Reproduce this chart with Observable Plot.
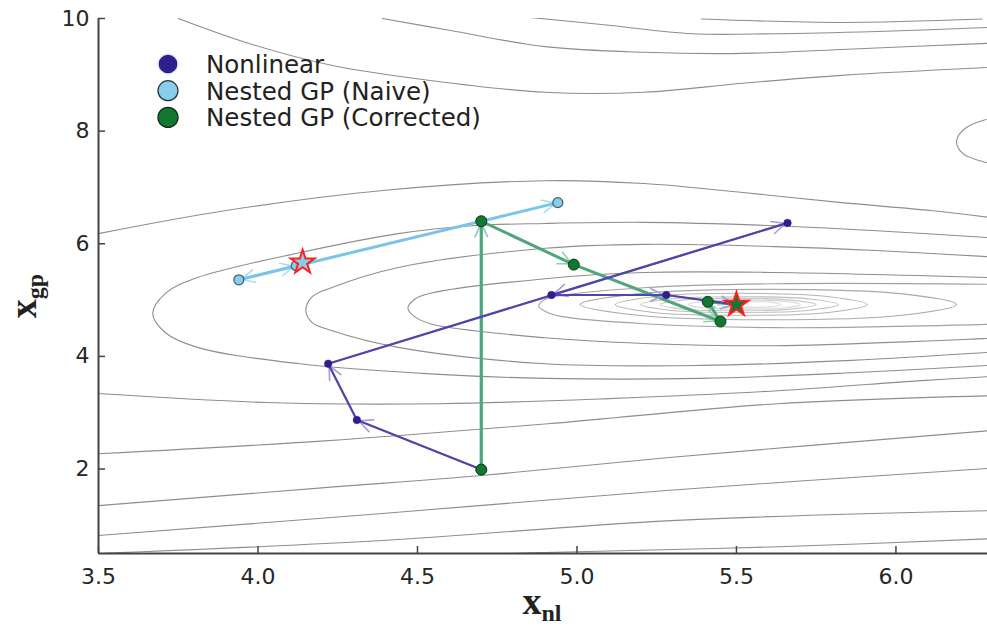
<!DOCTYPE html>
<html><head><meta charset="utf-8">
<script src="https://cdn.jsdelivr.net/npm/d3@7"></script>
<script src="https://cdn.jsdelivr.net/npm/@observablehq/plot@0.6"></script>
<style>body{margin:0;background:#fff;} #chart{width:987px;height:631px;}</style>
</head><body><div id="chart"></div>
<script>
// ---- axis ticks ----
const xTicks = [3.5, 4.0, 4.5, 5.0, 5.5, 6.0];
const yTicks = [2, 4, 6, 8, 10];

// ---- optimisation trajectories ----
const seriesNames = ["Nonlinear", "Nested GP (Naive)", "Nested GP (Corrected)"];
const nonlinearX = [4.70, 4.31, 4.22, 5.66, 4.92, 5.28, 5.50];
const nonlinearY = [1.99, 2.87, 3.87, 6.37, 5.09, 5.09, 4.92];
const naiveX = [4.70, 4.70, 4.94, 3.94, 4.12];
const naiveY = [1.99, 6.40, 6.73, 5.36, 5.61];
const correctedX = [4.70, 4.70, 4.99, 5.45, 5.41, 5.50];
const correctedY = [1.99, 6.40, 5.63, 4.62, 4.97, 4.92];
const starSeries = ["Nested GP (Naive)", "Nested GP (Corrected)"];
const starX = [4.14, 5.50];
const starY = [5.67, 4.92];

// ---- background contour lines ----
const T1 = [[5.39,9.99],[5.83,9.93],[6.27,9.99]];
const T2 = [[4.85,10.02],[5.10,9.88],[5.36,9.73],[5.62,9.73],[5.94,9.77],[6.29,9.84]];
const T3 = [[4.39,10.0],[4.60,9.79],[4.90,9.50],[5.21,9.40],[5.52,9.38],[5.83,9.45],[6.29,9.56]];
const T4 = [[3.75,10.0],[3.97,9.56],[4.23,9.17],[4.54,8.90],[4.90,8.69],[5.21,8.69],[5.52,8.85],[5.83,8.99],[6.29,9.13]];
const ER = [[6.33,8.28],[6.29,8.22],[6.22,8.06],[6.19,7.83],[6.21,7.60],[6.29,7.43],[6.33,7.37]];
const T5 = [[3.50,6.18],[3.90,6.59],[4.40,6.95],[4.90,7.12],[5.21,7.07],[5.52,6.91],[5.83,6.73],[6.11,6.59],[6.29,6.47]];
const E1 = [[6.29,6.11],[5.94,6.23],[5.62,6.32],[5.21,6.38],[4.90,6.36],[4.67,6.32],[4.44,6.18],[4.13,5.84],[3.81,5.40],[3.71,5.12],[3.67,4.76],[3.71,4.42],[3.81,4.16],[4.13,3.87],[4.54,3.69],[4.90,3.61],[5.39,3.61],[5.86,3.71],[6.29,3.84]];
const E2 = [[6.29,5.77],[5.94,5.88],[5.62,5.95],[5.21,5.99],[4.90,5.92],[4.44,5.58],[4.23,5.22],[4.17,5.06],[4.15,4.81],[4.17,4.60],[4.23,4.46],[4.44,4.16],[4.90,3.87],[5.39,3.84],[5.86,3.93],[6.29,4.07]];
const E3 = [[6.29,5.40],[5.62,5.49],[5.21,5.49],[4.90,5.38],[4.54,5.12],[4.49,5.01],[4.47,4.85],[4.49,4.71],[4.54,4.58],[4.90,4.33],[5.21,4.23],[5.62,4.19],[6.29,4.32]];
const E4 = [[6.29,5.28],[5.62,5.29],[5.21,5.22],[4.95,5.08],[4.90,5.01],[4.88,4.90],[4.90,4.80],[4.95,4.71],[5.21,4.58],[5.62,4.51],[6.29,4.57]];
const La = [[3.50,3.34],[4.03,3.18],[4.57,3.16],[5.10,3.25],[5.63,3.39],[6.08,3.57],[6.29,3.64]];
const Lb = [[3.50,2.27],[4.21,2.50],[4.92,2.81],[5.63,3.16],[6.29,3.30]];
const Lc = [[3.50,1.35],[4.21,1.67],[4.69,1.88],[5.28,2.20],[6.29,2.68]];
const Ld = [[3.50,0.82],[4.39,1.21],[5.28,1.62],[6.29,2.01]];
const Le = [[3.50,0.50],[4.39,0.73],[5.28,1.08],[6.29,1.26]];
const Lf = [[4.62,0.48],[5.00,0.53],[5.63,0.62],[6.29,0.76]];
const C1 = [[5.01,4.92],[5.19,5.11],[5.60,5.19],[6.02,5.11],[6.19,4.92],[6.02,4.73],[5.60,4.65],[5.19,4.73]];
const C2 = [[5.12,4.92],[5.24,5.06],[5.51,5.12],[5.79,5.06],[5.91,4.92],[5.79,4.78],[5.51,4.73],[5.24,4.78]];
const C3 = [[5.20,4.92],[5.29,5.02],[5.51,5.06],[5.73,5.02],[5.82,4.92],[5.73,4.82],[5.51,4.78],[5.29,4.82]];
const C4 = [[5.26,4.92],[5.33,5.00],[5.50,5.03],[5.67,5.00],[5.75,4.92],[5.67,4.84],[5.50,4.81],[5.33,4.84]];
const C5 = [[5.35,4.92],[5.40,4.98],[5.53,5.00],[5.65,4.98],[5.70,4.92],[5.65,4.86],[5.53,4.84],[5.40,4.86]];
const C6 = [[5.44,4.92],[5.47,4.96],[5.54,4.97],[5.61,4.96],[5.64,4.92],[5.61,4.88],[5.54,4.87],[5.47,4.88]];

// ---- build tables ----
const openSet = {T1, T2, T3, T4, ER, T5, E1, E2, E3, La, Lb, Lc, Ld, Le, Lf};
const innerOpen = {E4};
const closedSet = {C1, C2, C3, C4, C5, C6};
const rows = obj => Object.entries(obj).flatMap(([id, pts]) => pts.map(([x, y]) => ({id, x, y})));
const shade = {E4: "#a2a2a2", C1: "#aaaaaa", C2: "#b4b4b4", C3: "#bebebe", C4: "#c8c8c8", C5: "#d2d2d2", C6: "#dcdcdc"};
const pts = (xs, ys) => xs.map((x, i) => ({x, y: ys[i]}));
const segs = (xs, ys) => d3.pairs(pts(xs, ys)).map(([a, b]) => ({x1: a.x, y1: a.y, x2: b.x, y2: b.y}));
const stars = starSeries.map((s, i) => ({s, x: starX[i], y: starY[i]}));

const colNL = "#2d1f8d", colNLline = "#5045a8", colNLhead = "#a49ed8";
const colNV = "#87ceeb", colNVline = "#79c5e9", colNVhead = "#a9ddf3";
const colC = "#13782f", colCline = "#4fa67b", colChead = "#8fd0ac";
const axisCol = "#444";

const chart = Plot.plot({
  width: 987, height: 631,
  marginLeft: 98, marginRight: 0, marginTop: 18, marginBottom: 78,
  x: {domain: [3.5, 6.287], label: null},
  y: {domain: [0.5, 10], label: null},
  color: {type: "identity"},
  style: {fontFamily: "DejaVu Sans", fontSize: "22px", color: "#262626", background: "white"},
  marks: [
    Plot.line(rows(openSet), {x: "x", y: "y", z: "id", curve: "catmull-rom", stroke: "#8e8e8e", strokeWidth: 1.1, clip: true}),
    Plot.line(rows(innerOpen), {x: "x", y: "y", z: "id", curve: "catmull-rom", stroke: d => shade[d.id], strokeWidth: 1.1, clip: true}),
    Plot.line(rows(closedSet), {x: "x", y: "y", z: "id", curve: "catmull-rom-closed", stroke: d => shade[d.id], strokeWidth: 1.1, clip: true}),
    // naive
    Plot.arrow(segs(naiveX, naiveY), {x1: "x1", y1: "y1", x2: "x2", y2: "y2", stroke: colNVhead, strokeWidth: 1.6, headLength: 14, headAngle: 50, insetEnd: 2}),
    Plot.line(pts(naiveX, naiveY), {x: "x", y: "y", stroke: colNVline, strokeWidth: 3}),
    // corrected
    Plot.arrow(segs(correctedX, correctedY), {x1: "x1", y1: "y1", x2: "x2", y2: "y2", stroke: colChead, strokeWidth: 1.6, headLength: 14, headAngle: 50, insetEnd: 2}),
    Plot.line(pts(correctedX, correctedY), {x: "x", y: "y", stroke: colCline, strokeWidth: 3}),
    // nonlinear
    Plot.arrow(segs(nonlinearX, nonlinearY), {x1: "x1", y1: "y1", x2: "x2", y2: "y2", stroke: colNLhead, strokeWidth: 1.6, headLength: 14, headAngle: 50, insetEnd: 2}),
    Plot.line(pts(nonlinearX, nonlinearY), {x: "x", y: "y", stroke: colNLline, strokeWidth: 2.2}),
    // points
    Plot.dot(pts(naiveX, naiveY), {x: "x", y: "y", r: 5, fill: colNV, stroke: "#3f5f6e", strokeWidth: 1.2}),
    Plot.dot(pts(nonlinearX, nonlinearY), {x: "x", y: "y", r: 3.8, fill: colNL, stroke: colNL, strokeWidth: 0.5}),
    Plot.dot(pts(correctedX, correctedY), {x: "x", y: "y", r: 5.5, fill: colC, stroke: "#0d3b1b", strokeWidth: 1}),
    Plot.dot(stars, {x: "x", y: "y", symbol: "star", r: 7.5, fill: d => d.s === "Nested GP (Naive)" ? colNV : colC, stroke: "#ff1f1f", strokeWidth: 2}),
    // axes: labels
    Plot.axisX(xTicks, {tickSize: 0, tickPadding: 15, tickFormat: d3.format(".1f"), fontSize: 22}),
    Plot.axisY(yTicks, {tickSize: 0, tickPadding: 9, tickFormat: d3.format("d"), fontSize: 22}),
    // inward ticks
    Plot.ruleX(xTicks, {x: d => d, y1: 0.5, y2: 0.5, insetTop: -7, stroke: axisCol, strokeWidth: 1.5}),
    Plot.ruleY(yTicks, {y: d => d, x1: 3.5, x2: 3.5, insetRight: -7, stroke: axisCol, strokeWidth: 1.5}),
    // spines
    Plot.ruleX([3.5], {stroke: axisCol, strokeWidth: 2}),
    Plot.ruleY([0.5], {stroke: axisCol, strokeWidth: 2})
  ]
});
document.getElementById("chart").appendChild(chart);

// ---- axis labels ----
const svg = d3.select(chart);
const xl = svg.append("text").attr("x", 542).attr("y", 614).attr("text-anchor", "middle")
  .attr("font-family", "Liberation Serif, DejaVu Serif, serif").attr("fill", "#222");
xl.append("tspan").attr("font-weight", "bold").attr("font-size", 38).text("x");
xl.append("tspan").attr("font-weight", "bold").attr("font-size", 24).attr("dy", 7).text("nl");
const yl = svg.append("text").attr("transform", "translate(36,296) rotate(-90)").attr("text-anchor", "middle")
  .attr("font-family", "Liberation Serif, DejaVu Serif, serif").attr("fill", "#222");
yl.append("tspan").attr("font-weight", "bold").attr("font-size", 38).text("x");
yl.append("tspan").attr("font-weight", "bold").attr("font-size", 24).attr("dy", 7).text("gp");

// ---- legend ----
const legFill = [colNL, colNV, colC];
const legStroke = ["#e8e6f5", "#2a3b44", "#0d2e17"];
const lg = svg.append("g").attr("font-family", "DejaVu Sans").attr("font-size", 24.5).attr("fill", "#222").attr("text-anchor", "start");
seriesNames.forEach((name, i) => {
  const cy = 64 + i * 26.7;
  lg.append("circle").attr("cx", 168).attr("cy", cy).attr("r", 10).attr("fill", legFill[i]).attr("stroke", legStroke[i]).attr("stroke-width", 1.3);
  lg.append("text").attr("x", 206).attr("y", cy).attr("dy", "0.36em").attr("text-anchor", "start").text(name);
});
</script>
</body></html>
